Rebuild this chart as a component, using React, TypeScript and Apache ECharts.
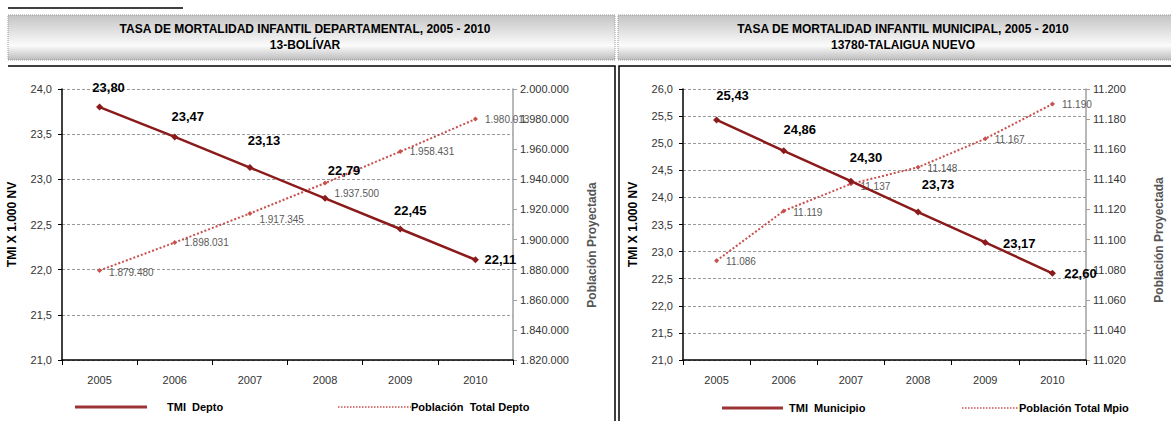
import React, { useEffect, useRef } from "react";
import * as echarts from "echarts";

const years = ["2005", "2006", "2007", "2008", "2009", "2010"];
const tmiDepto = [23.8, 23.47, 23.13, 22.79, 22.45, 22.11];
const poblacionDepto = [1879480, 1898031, 1917345, 1937500, 1958431, 1980013];
const tmiMunicipio = [25.43, 24.86, 24.3, 23.73, 23.17, 22.6];
const poblacionMpio = [11086, 11119, 11137, 11148, 11167, 11190];

const deptoTitle = ["TASA DE MORTALIDAD INFANTIL DEPARTAMENTAL, 2005 - 2010", "13-BOLÍVAR"];
const mpioTitle = ["TASA DE MORTALIDAD INFANTIL MUNICIPAL, 2005 - 2010", "13780-TALAIGUA NUEVO"];
const deptoNames = ["TMI  Depto", "Población  Total Depto"];
const mpioNames = ["TMI  Municipio", "Población Total Mpio"];
const leftAxisName = "TMI X 1.000 NV";
const rightAxisName = "Población Proyectada";

// axis ranges
const deptoLeft = { min: 21, max: 24, interval: 0.5 };
const deptoRight = { min: 1820000, max: 2000000, interval: 20000 };
const mpioLeft = { min: 21, max: 26, interval: 0.5 };
const mpioRight = { min: 11020, max: 11200, interval: 20 };

// label placement (styles)
const deptoTmiOffsets = [[9, -20], [13, -20], [14, -27], [19, -28], [10, -19], [25, 0]];
const deptoPopOffsets = [2, 0, 6, 10, 0, 0];
const mpioTmiOffsets = [[16, -24], [16, -21], [15, -24], [20, -28], [34, 1], [28, 0]];
const mpioPopOffsets = [1, 2, 3, 1, 1, 0];

const FONT = "'Liberation Sans', Arial, Helvetica, sans-serif";
const DARK_RED = "#8B1A1A";
const POP_RED = "#C8504D";

const dec1 = (v: number) => v.toFixed(1).replace(".", ",");
const dec2 = (v: number) => v.toFixed(2).replace(".", ",");
const thousands = (v: number) =>
  Math.round(v)
    .toString()
    .replace(/\B(?=(\d{3})+(?!\d))/g, ".");

function makeAxes(grid: number, left: any, right: any, nameGapL: number) {
  const x = {
    type: "category",
    gridIndex: grid,
    data: years,
    boundaryGap: true,
    axisLine: { lineStyle: { color: "#000", width: 1.5 } },
    axisTick: { show: true, length: 5, lineStyle: { color: "#000", width: 1 } },
    axisLabel: { color: "#333", fontSize: 11, margin: 14, fontFamily: FONT },
    splitLine: { show: false },
  };
  const yl = {
    type: "value",
    gridIndex: grid,
    position: "left",
    min: left.min,
    max: left.max,
    interval: left.interval,
    axisLine: { show: true, lineStyle: { color: "#000", width: 1.5 } },
    axisTick: { show: true, length: 4, lineStyle: { color: "#000", width: 1 } },
    axisLabel: { formatter: dec1, color: "#333", fontSize: 11, margin: 10, fontFamily: FONT },
    splitLine: { show: true, lineStyle: { color: "#9a9a9a", type: [3, 2], width: 1 } },
    name: leftAxisName,
    nameLocation: "middle",
    nameGap: nameGapL,
    nameRotate: 90,
    nameTextStyle: { color: "#000", fontSize: 12, fontWeight: "bold", fontFamily: FONT },
  };
  const yr = {
    type: "value",
    gridIndex: grid,
    position: "right",
    min: right.min,
    max: right.max,
    interval: right.interval,
    axisLine: { show: true, lineStyle: { color: "#a0a0a0", width: 1.5 } },
    axisTick: { show: true, length: 4, lineStyle: { color: "#a0a0a0", width: 1 } },
    axisLabel: { formatter: thousands, color: "#333", fontSize: 11, margin: 7, fontFamily: FONT },
    splitLine: { show: false },
  };
  return { x, yl, yr };
}

function makeSeries(
  xIdx: number,
  yLeftIdx: number,
  yRightIdx: number,
  tmi: number[],
  pop: number[],
  names: string[],
  tmiOff: number[][],
  popOff: number[]
) {
  return [
    {
      type: "line",
      name: names[1],
      xAxisIndex: xIdx,
      yAxisIndex: yRightIdx,
      data: pop.map((v, i) => ({
        value: v,
        label: { offset: [0, popOff[i]] },
      })),
      symbol: "diamond",
      symbolSize: 5,
      itemStyle: { color: POP_RED },
      lineStyle: { color: POP_RED, width: 2, type: [2, 2] },
      label: {
        show: true,
        position: "right",
        distance: 7,
        color: "#5a5a5a",
        fontSize: 10,
        fontFamily: FONT,
        formatter: (p: any) => thousands(p.value),
      },
      z: 2,
    },
    {
      type: "line",
      name: names[0],
      xAxisIndex: xIdx,
      yAxisIndex: yLeftIdx,
      data: tmi.map((v, i) => ({
        value: v,
        label: { offset: tmiOff[i] },
      })),
      symbol: "diamond",
      symbolSize: 7,
      itemStyle: { color: DARK_RED },
      lineStyle: { color: DARK_RED, width: 2.5 },
      label: {
        show: true,
        position: "inside",
        color: "#000",
        fontSize: 13,
        fontWeight: "bold",
        fontFamily: FONT,
        formatter: (p: any) => dec2(p.value),
      },
      z: 3,
    },
  ];
}

function header(x: number, w: number, cx: number, lines: string[]) {
  return [
    {
      type: "rect",
      shape: { x, y: 15, width: w, height: 45 },
      style: {
        fill: new echarts.graphic.LinearGradient(0, 0, 0, 1, [
          { offset: 0, color: "#c4c4c4" },
          { offset: 0.68, color: "#fbfbfb" },
          { offset: 1, color: "#bcbcbc" },
        ]),
        stroke: "#9a9a9a",
        lineWidth: 1,
        lineDash: [1, 1],
      },
      z: 1,
    },
    {
      type: "text",
      x: cx,
      y: 29,
      style: {
        text: lines[0],
        fill: "#000",
        font: `bold 12px ${FONT}`,
        align: "center",
        verticalAlign: "middle",
      },
      z: 2,
    },
    {
      type: "text",
      x: cx,
      y: 45,
      style: {
        text: lines[1],
        fill: "#000",
        font: `bold 12px ${FONT}`,
        align: "center",
        verticalAlign: "middle",
      },
      z: 2,
    },
  ];
}

function rightName(x: number, y: number) {
  return {
    type: "text",
    x,
    y,
    rotation: Math.PI / 2,
    style: {
      text: rightAxisName,
      fill: "#555",
      font: `bold 12px ${FONT}`,
      align: "center",
      verticalAlign: "middle",
    },
  };
}

function legend(y: number, solid: number[], txt1: number, dotted: number[], txt2: number, names: string[]) {
  return [
    {
      type: "line",
      shape: { x1: solid[0], y1: y, x2: solid[1], y2: y },
      style: { stroke: "#9B3535", lineWidth: 3 },
    },
    {
      type: "text",
      x: txt1,
      y,
      style: { text: names[0], fill: "#000", font: `bold 11px ${FONT}`, verticalAlign: "middle" },
    },
    {
      type: "line",
      shape: { x1: dotted[0], y1: y, x2: dotted[1], y2: y },
      style: { stroke: POP_RED, lineWidth: 1.5, lineDash: [1.5, 1.5] },
    },
    {
      type: "text",
      x: txt2,
      y,
      style: { text: names[1], fill: "#000", font: `bold 11px ${FONT}`, verticalAlign: "middle" },
    },
  ];
}

export default function App() {
  const ref = useRef<HTMLDivElement>(null);

  useEffect(() => {
    if (!ref.current) return;
    const chart = echarts.init(ref.current, null, { renderer: "svg" });
    const a = makeAxes(0, deptoLeft, deptoRight, 44);
    const b = makeAxes(1, mpioLeft, mpioRight, 44);

    const option: any = {
      animation: false,
      backgroundColor: "#fff",
      grid: [
        { left: 62, right: 1171 - 513, top: 89, bottom: 421 - 360 },
        { left: 683, right: 1171 - 1086, top: 89, bottom: 421 - 360 },
      ],
      xAxis: [a.x, b.x],
      yAxis: [a.yl, a.yr, b.yl, b.yr],
      series: [
        ...makeSeries(0, 0, 1, tmiDepto, poblacionDepto, deptoNames, deptoTmiOffsets, deptoPopOffsets),
        ...makeSeries(1, 2, 3, tmiMunicipio, poblacionMpio, mpioNames, mpioTmiOffsets, mpioPopOffsets),
      ],
      graphic: [
        // top short rule
        { type: "line", shape: { x1: 8, y1: 8, x2: 183, y2: 8 }, style: { stroke: "#000", lineWidth: 1.5 } },
        ...header(8, 607, 305, deptoTitle),
        ...header(618, 560, 903, mpioTitle),
        // chart frames
        { type: "polyline", shape: { points: [[8, 66], [615, 66], [615, 421]] }, style: { stroke: "#000", lineWidth: 1.5, fill: "none" } },
        { type: "polyline", shape: { points: [[619, 421], [619, 66], [1171, 66]] }, style: { stroke: "#000", lineWidth: 1.5, fill: "none" } },
        rightName(592, 245),
        rightName(1159, 240),
        ...legend(407, [75, 147], 167, [338, 411], 411, deptoNames),
        ...legend(408, [722, 783], 789, [962, 1019], 1019, mpioNames),
      ],
    };
    chart.setOption(option);
    return () => chart.dispose();
  }, []);

  return (
    <div
      ref={ref}
      style={{ position: "absolute", left: 0, top: 0, width: 1171, height: 421 }}
    />
  );
}
